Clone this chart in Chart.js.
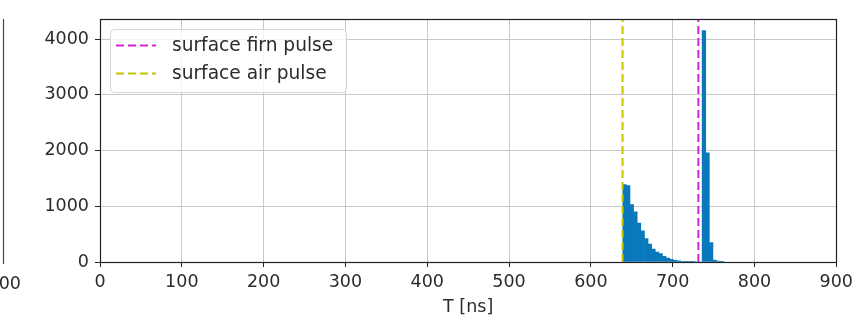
<!DOCTYPE html>
<html>
<head>
<meta charset="utf-8">
<script src="https://cdn.jsdelivr.net/npm/chart.js@4.4.1/dist/chart.umd.min.js"></script>
<style>
  html, body { margin: 0; padding: 0; background: #ffffff; }
  #wrap { position: relative; width: 858px; height: 322px; }
  canvas { display: block; }
</style>
</head>
<body>
<div id="wrap"><canvas id="c" width="858" height="322"></canvas></div>
<script>
// ---- data ----
const binCenters = [641.2, 645.6, 650.0, 654.4, 658.8, 663.3, 667.7, 672.1, 676.5, 680.9,
                    685.3, 689.7, 694.1, 698.5, 702.9, 707.4, 711.8, 716.2, 720.6, 725.0,
                    729.4, 733.8, 738.2, 742.6, 747.0, 751.4, 755.9, 760.3];
const binCounts  = [1390, 1370, 1030, 900, 700, 560, 420, 320, 230, 180,
                    150, 100, 70, 50, 30, 20, 10, 14, 5, 2,
                    0, 0, 4150, 1960, 350, 35, 15, 6];
const firnPulseT = 731.4;
const airPulseT  = 638.7;
const xTicks = [0, 100, 200, 300, 400, 500, 600, 700, 800, 900];
const yTicks = [0, 1000, 2000, 3000, 4000];
const xTitle = 'T [ns]';
const legendLabels = ['surface firn pulse', 'surface air pulse'];
const neighbourTickLabel = '900';

const Y_MAX = 4360;
const FONT = '"DejaVu Sans", sans-serif';
const TEXT = '#2b2b2b';

const histData = binCenters.map((x, i) => ({ x: x, y: binCounts[i] }));

const framePlugin = {
  id: 'frame',
  afterDraw(chart) {
    const ctx = chart.ctx, a = chart.chartArea;
    ctx.save();
    // spines
    ctx.strokeStyle = '#222';
    ctx.lineWidth = 1.2;
    ctx.strokeRect(Math.round(a.left) + 0.5, Math.round(a.top) + 0.5,
                   Math.round(a.right - a.left), Math.round(a.bottom - a.top));
    // legend box
    const bx = 110.5, by = 29.5, bw = 236, bh = 63, r = 4;
    ctx.beginPath();
    ctx.moveTo(bx + r, by);
    ctx.lineTo(bx + bw - r, by); ctx.quadraticCurveTo(bx + bw, by, bx + bw, by + r);
    ctx.lineTo(bx + bw, by + bh - r); ctx.quadraticCurveTo(bx + bw, by + bh, bx + bw - r, by + bh);
    ctx.lineTo(bx + r, by + bh); ctx.quadraticCurveTo(bx, by + bh, bx, by + bh - r);
    ctx.lineTo(bx, by + r); ctx.quadraticCurveTo(bx, by, bx + r, by);
    ctx.closePath();
    ctx.fillStyle = 'rgba(255,255,255,0.8)';
    ctx.fill();
    ctx.strokeStyle = '#d6d6d6';
    ctx.lineWidth = 1;
    ctx.stroke();
    const lineSets = chart.data.datasets.filter(d => d.type === 'line');
    const rowsY = [45.5, 73.5];
    lineSets.forEach((d, i) => {
      const y = rowsY[i];
      ctx.beginPath();
      ctx.setLineDash([8, 4]);
      ctx.strokeStyle = d.borderColor;
      ctx.lineWidth = 2;
      ctx.moveTo(116, y); ctx.lineTo(156, y);
      ctx.stroke();
      ctx.setLineDash([]);
      ctx.fillStyle = TEXT;
      ctx.font = '18.6px ' + FONT;
      ctx.textBaseline = 'middle';
      ctx.textAlign = 'left';
      ctx.fillText(d.label, 172, y + 1);
    });
    // neighbouring subplot fragment at the far left
    ctx.strokeStyle = '#444';
    ctx.lineWidth = 1.2;
    ctx.beginPath();
    ctx.moveTo(3.5, 19); ctx.lineTo(3.5, 264);
    ctx.stroke();
    ctx.fillStyle = TEXT;
    ctx.font = '17.5px ' + FONT;
    ctx.textAlign = 'right';
    ctx.textBaseline = 'middle';
    ctx.fillText(neighbourTickLabel, 21, 284);
    ctx.restore();
  }
};

new Chart(document.getElementById('c'), {
  data: {
    datasets: [
      {
        type: 'bar',
        label: 'hist',
        data: histData,
        backgroundColor: '#0979bc',
        borderWidth: 0,
        barPercentage: 1.0,
        categoryPercentage: 1.0,
        order: 2
      },
      {
        type: 'line',
        label: legendLabels[0],
        data: [{ x: firnPulseT, y: 0 }, { x: firnPulseT, y: Y_MAX }],
        borderColor: '#d820d8',
        borderWidth: 2,
        borderDash: [8, 4],
        pointRadius: 0,
        order: 1
      },
      {
        type: 'line',
        label: legendLabels[1],
        data: [{ x: airPulseT, y: 0 }, { x: airPulseT, y: Y_MAX }],
        borderColor: '#c4c400',
        borderWidth: 2,
        borderDash: [8, 4],
        pointRadius: 0,
        order: 1
      }
    ]
  },
  options: {
    responsive: false,
    animation: false,
    events: [],
    layout: { padding: { left: 0, right: 20, top: 19, bottom: 0 } },
    plugins: { legend: { display: false }, tooltip: { enabled: false }, title: { display: false } },
    scales: {
      x: {
        type: 'linear',
        min: 0, max: 900,
        offset: false,
        afterBuildTicks: s => { s.ticks = xTicks.map(v => ({ value: v })); },
        afterFit: s => { s.height = 60; },
        grid: { color: '#c8c8c8', lineWidth: 1, offset: false, drawTicks: true, tickLength: 5, tickColor: '#222' },
        border: { display: false },
        ticks: { color: TEXT, font: { family: FONT, size: 17.5 }, padding: 5, maxRotation: 0 },
        title: { display: true, text: xTitle, color: TEXT, font: { family: FONT, size: 17.5 }, padding: { top: 0, bottom: 4 } }
      },
      y: {
        type: 'linear',
        min: 0, max: Y_MAX,
        afterBuildTicks: s => { s.ticks = yTicks.map(v => ({ value: v })); },
        afterFit: s => { s.width = 100; },
        grid: { color: '#c8c8c8', lineWidth: 1, drawTicks: true, tickLength: 5, tickColor: '#222' },
        border: { display: false },
        ticks: { color: TEXT, font: { family: FONT, size: 17.5 }, padding: 6, callback: v => String(v) }
      }
    }
  },
  plugins: [framePlugin]
});
</script>
</body>
</html>
